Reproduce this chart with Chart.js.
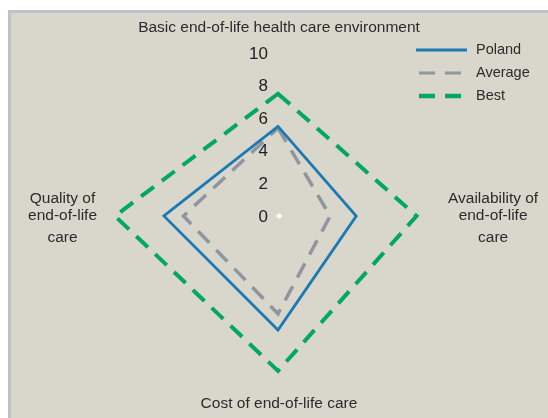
<!DOCTYPE html>
<html><head><meta charset="utf-8">
<style>html,body{margin:0;padding:0;background:#fff;}#wrap{width:548px;height:418px;position:relative}canvas{display:block}</style>
<script src="https://cdn.jsdelivr.net/npm/chart.js@4.4.1/dist/chart.umd.min.js"></script>
</head><body><div id="wrap"><canvas id="c" width="548" height="418"></canvas></div>
<script>
const categories = [
  ["Basic end-of-life health care environment"],
  ["Availability of", "end-of-life", "care"],
  ["Cost of end-of-life care"],
  ["Quality of", "end-of-life", "care"]
];
const seriesNames = ["Poland", "Average", "Best"];
const poland = [5.5, 4.8, 7.0, 7.0];
const average = [5.4, 3.2, 6.0, 5.8];
const best = [7.5, 8.5, 9.5, 10];
const tickLabels = ["0", "2", "4", "6", "8", "10"];

const FONT = "'Liberation Sans', Arial, sans-serif";
const labelDist = [188, 170, 188, 181];

const customDraw = {
  id: 'customDraw',
  beforeDraw(chart) {
    const ctx = chart.ctx;
    ctx.save();
    ctx.fillStyle = '#ffffff';
    ctx.fillRect(0, 0, chart.width, chart.height);
    ctx.fillStyle = '#bfc1c8';
    ctx.fillRect(8, 10, chart.width - 8, chart.height - 10);
    ctx.fillStyle = '#d9d6cb';
    ctx.fillRect(11, 13, chart.width - 11, chart.height - 13);
    ctx.restore();
  },
  afterDatasetsDraw(chart) {
    const ctx = chart.ctx;
    const s = chart.scales.r;
    ctx.save();
    // tick labels
    ctx.font = "17px " + FONT;
    ctx.fillStyle = '#222222';
    ctx.textAlign = 'right';
    ctx.textBaseline = 'middle';
    tickLabels.forEach(t => {
      const d = s.getDistanceFromCenterForValue(Number(t));
      ctx.fillText(t, s.xCenter - 10, s.yCenter - d + 1);
    });
    // center dot
    ctx.fillStyle = '#ffffff';
    ctx.beginPath();
    ctx.arc(s.xCenter + 1, s.yCenter, 2.5, 0, Math.PI * 2);
    ctx.fill();
    // point labels
    ctx.fillStyle = '#2b2b2b';
    ctx.textBaseline = 'middle';
    ctx.textAlign = 'center';
    const lineOff = [-17.5, 0, 22];
    categories.forEach((lines, i) => {
      const p = s.getPointPosition(i, labelDist[i]);
      ctx.font = "15.5px " + FONT;
      if (lines.length === 1) {
        ctx.fillText(lines[0], p.x + 1, p.y);
      } else {
        const w = Math.max(...lines.map(l => ctx.measureText(l).width));
        const cx = (i === 1) ? p.x + w / 2 : p.x - w / 2;
        lines.forEach((l, k) => ctx.fillText(l, cx, p.y + lineOff[k]));
      }
    });
    // legend
    const ly = [50, 73, 96];
    chart.data.datasets.forEach((ds, i) => {
      ctx.strokeStyle = ds.borderColor;
      ctx.lineWidth = ds.legendWidth;
      ctx.setLineDash(ds.borderDash || []);
      ctx.lineDashOffset = -3;
      ctx.beginPath();
      ctx.moveTo(416, ly[i]);
      ctx.lineTo(467, ly[i]);
      ctx.stroke();
      ctx.setLineDash([]);
      ctx.fillStyle = '#2b2b2b';
      ctx.font = "14.5px " + FONT;
      ctx.textAlign = 'left';
      ctx.fillText(ds.label, 476, ly[i]);
    });
    ctx.restore();
  }
};

new Chart(document.getElementById('c'), {
  type: 'radar',
  data: {
    labels: categories,
    datasets: [
      { label: seriesNames[0], data: poland, borderColor: '#1b79b4', borderWidth: 2.8, legendWidth: 3, fill: false, pointRadius: 0, tension: 0 },
      { label: seriesNames[1], data: average, borderColor: '#8f969e', borderWidth: 3.5, borderDash: [16, 10], legendWidth: 3, fill: false, pointRadius: 0, tension: 0 },
      { label: seriesNames[2], data: best, borderColor: '#00a862', borderWidth: 4, borderDash: [16, 10], legendWidth: 4.5, fill: false, pointRadius: 0, tension: 0 }
    ]
  },
  options: {
    responsive: false,
    animation: false,
    devicePixelRatio: 1,
    layout: { padding: { left: 115, right: 107, top: 53, bottom: 39 } },
    plugins: { legend: { display: false }, tooltip: { enabled: false }, title: { display: false } },
    elements: { line: { borderJoinStyle: 'miter' } },
    scales: {
      r: {
        min: 0, max: 10,
        ticks: { display: false, stepSize: 2 },
        grid: { display: false },
        angleLines: { display: false },
        pointLabels: { display: false }
      }
    }
  },
  plugins: [customDraw]
});
</script>
</body></html>
